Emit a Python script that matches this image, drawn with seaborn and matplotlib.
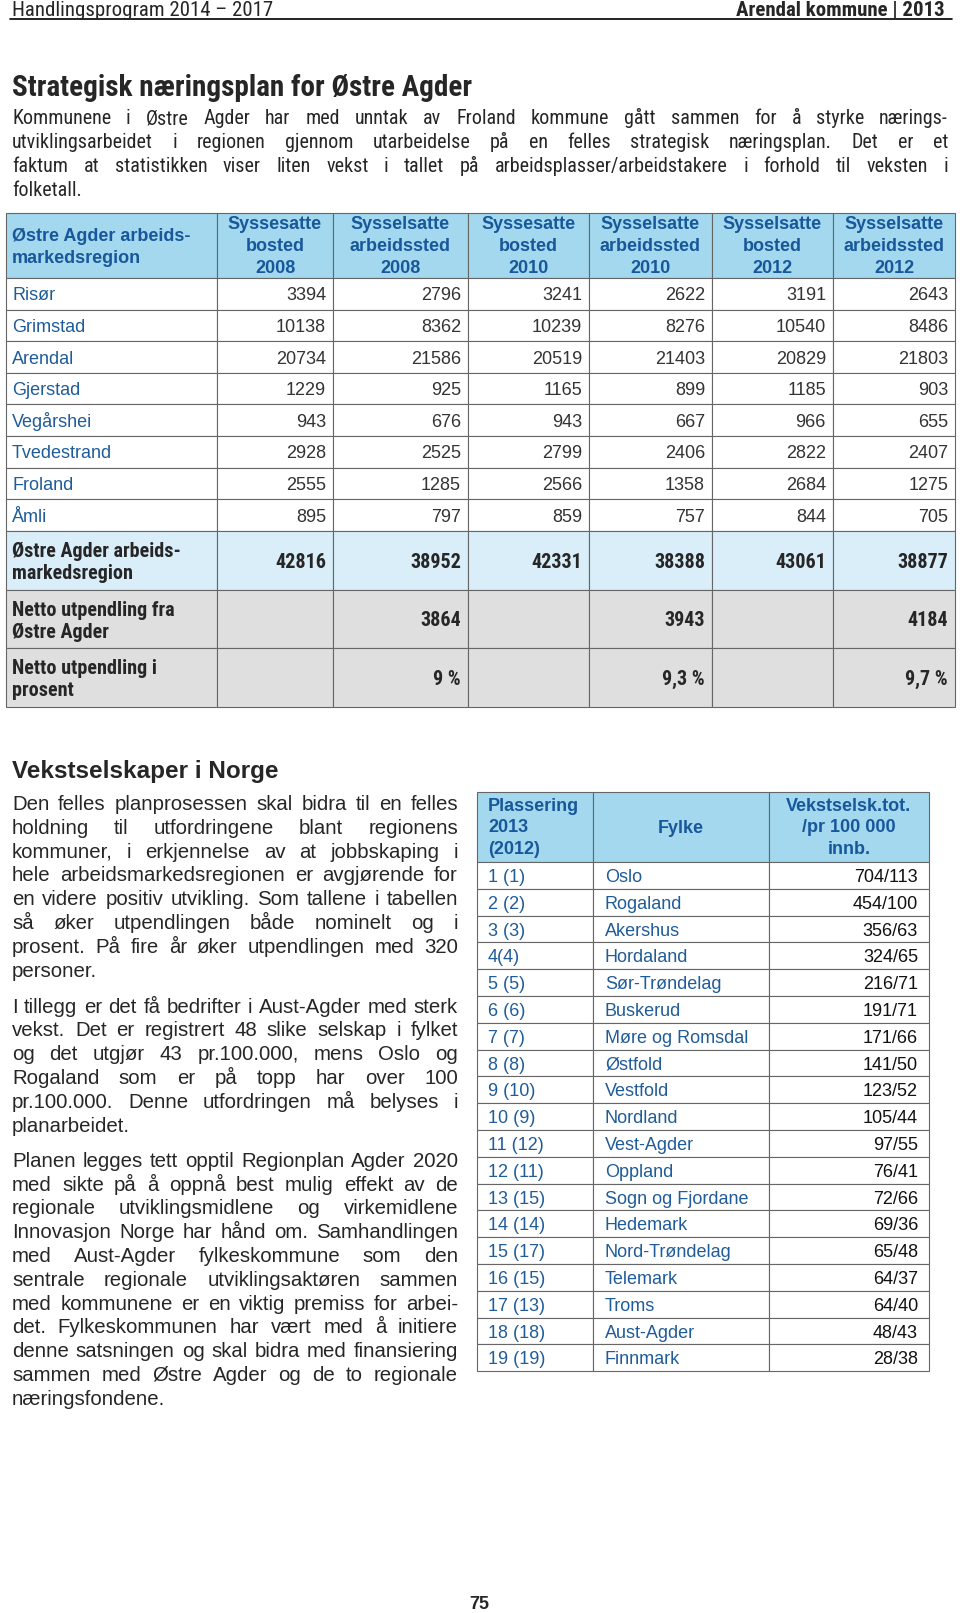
import matplotlib
matplotlib.use('Agg')
import matplotlib.pyplot as plt
from matplotlib.patches import Rectangle
from matplotlib import font_manager
import seaborn as sns

sns.set_style('white')
plt.rcParams['font.family'] = ['Liberation Sans', 'DejaVu Sans']

# narrow face for the Arial Narrow parts of the page
names = {f.name for f in font_manager.fontManager.ttflist}
NARROW = 'Liberation Sans'
for n in ['Liberation Sans Narrow', 'Arial Narrow', 'Roboto Condensed', 'PT Sans Narrow']:
    if n in names:
        NARROW = n
        break
NARROW_LIST = [NARROW] + [n for n in ['PT Sans Narrow', 'Liberation Sans'] if n in names and n != NARROW]

# ---- data: table 1 (Østre Agder arbeidsmarkedsregion)
kommuner = ['Risør', 'Grimstad', 'Arendal', 'Gjerstad', 'Vegårshei',
            'Tvedestrand', 'Froland', 'Åmli']
bosted_2008 = [3394, 10138, 20734, 1229, 943, 2928, 2555, 895]
arbeid_2008 = [2796, 8362, 21586, 925, 676, 2525, 1285, 797]
bosted_2010 = [3241, 10239, 20519, 1165, 943, 2799, 2566, 859]
arbeid_2010 = [2622, 8276, 21403, 899, 667, 2406, 1358, 757]
bosted_2012 = [3191, 10540, 20829, 1185, 966, 2822, 2684, 844]
arbeid_2012 = [2643, 8486, 21803, 903, 655, 2407, 1275, 705]
region_sum = [42816, 38952, 42331, 38388, 43061, 38877]
netto_utpendling = [3864, 3943, 4184]
netto_prosent = ['9 %', '9,3 %', '9,7 %']
kol_titler = ['Syssesatte\nbosted\n2008', 'Sysselsatte\narbeidssted\n2008',
              'Syssesatte\nbosted\n2010', 'Sysselsatte\narbeidssted\n2010',
              'Sysselsatte\nbosted\n2012', 'Sysselsatte\narbeidssted\n2012']

# ---- data: table 2 (Vekstselskaper)
plassering = ['1 (1)', '2 (2)', '3 (3)', '4(4)', '5 (5)', '6 (6)', '7 (7)', '8 (8)',
              '9 (10)', '10 (9)', '11 (12)', '12 (11)', '13 (15)', '14 (14)',
              '15 (17)', '16 (15)', '17 (13)', '18 (18)', '19 (19)']
fylker = ['Oslo', 'Rogaland', 'Akershus', 'Hordaland', 'Sør-Trøndelag', 'Buskerud',
          'Møre og Romsdal', 'Østfold', 'Vestfold', 'Nordland', 'Vest-Agder',
          'Oppland', 'Sogn og Fjordane', 'Hedemark', 'Nord-Trøndelag', 'Telemark',
          'Troms', 'Aust-Agder', 'Finnmark']
vekst_tot = [704, 454, 356, 324, 216, 191, 171, 141, 123, 105, 97, 76, 72, 69, 65, 64, 64, 48, 28]
vekst_pr100k = [113, 100, 63, 65, 71, 71, 66, 50, 52, 44, 55, 41, 66, 36, 48, 37, 40, 43, 38]

# ---- text
intro = ['Kommunene i Østre Agder har med unntak av Froland kommune gått sammen for å styrke nærings-',
         'utviklingsarbeidet i regionen gjennom utarbeidelse på en felles strategisk næringsplan. Det er et',
         'faktum at statistikken viser liten vekst i tallet på arbeidsplasser/arbeidstakere i forhold til veksten i',
         'folketall.']
para_a = ['Den felles planprosessen skal bidra til en felles',
          'holdning til utfordringene blant regionens',
          'kommuner, i erkjennelse av at jobbskaping i',
          'hele arbeidsmarkedsregionen er avgjørende for',
          'en videre positiv utvikling. Som tallene i tabellen',
          'så øker utpendlingen både nominelt og i',
          'prosent. På fire år øker utpendlingen med 320',
          'personer.']
para_b = ['I tillegg er det få bedrifter i Aust-Agder med sterk',
          'vekst. Det er registrert 48 slike selskap i fylket',
          'og det utgjør 43 pr.100.000, mens Oslo og',
          'Rogaland som er på topp har over 100',
          'pr.100.000. Denne utfordringen må belyses i',
          'planarbeidet.']
para_c = ['Planen legges tett opptil Regionplan Agder 2020',
          'med sikte på å oppnå best mulig effekt av de',
          'regionale utviklingsmidlene og virkemidlene',
          'Innovasjon Norge har hånd om. Samhandlingen',
          'med Aust-Agder fylkeskommune som den',
          'sentrale regionale utviklingsaktøren sammen',
          'med kommunene er en viktig premiss for arbei-',
          'det. Fylkeskommunen har vært med å initiere',
          'denne satsningen og skal bidra med finansiering',
          'sammen med Østre Agder og de to regionale',
          'næringsfondene.']

HEAD_BG = '#a3d8ef'
HEAD_TXT = '#18589a'
NAME_TXT = '#1f5c99'
NUM_TXT = '#333333'
SUM_BG = '#d9eef9'
GRAY_BG = '#dfdfdf'
GRID = '#666666'

fig = plt.figure(figsize=(9.6, 16.13), dpi=100)
ax = fig.add_axes([0, 0, 1, 1])
ax.set_xlim(0, 960)
ax.set_ylim(1613, 0)
ax.axis('off')
renderer = fig.canvas.get_renderer()


def txt(x, yc, s, size, **kw):
    # single line, put on a baseline so Ø / å do not shift the word
    return ax.text(x, yc + 2 + 0.26 * size * 100 / 72, s, size=size, va='baseline', **kw)


def paragraph(lines, x0, x1, y0, dy, size, **kw):
    # justified block, last line left aligned
    for i, line in enumerate(lines):
        y = y0 + i * dy
        if i == len(lines) - 1:
            txt(x0, y, line, size, **kw)
            continue
        words = line.split(' ')
        texts = [txt(x0, y, w, size, **kw) for w in words]
        widths = [t.get_window_extent(renderer).width for t in texts]
        gap = (x1 - x0 - sum(widths)) / (len(words) - 1)
        x = x0
        for t, w in zip(texts, widths):
            t.set_x(x)
            x += w + gap


def cell(x0, x1, y0, y1, fc='white'):
    ax.add_patch(Rectangle((x0, y0), x1 - x0, y1 - y0, facecolor=fc,
                           edgecolor=GRID, lw=0.8))


# header line
txt(12, 9, 'Handlingsprogram 2014 – 2017', 15, family=NARROW_LIST)
txt(945, 9, 'Arendal kommune | 2013', 15, family=NARROW, weight='bold', ha='right')
ax.plot([10, 952], [18.5, 18.5], color='black', lw=1.2)

txt(12, 86, 'Strategisk næringsplan for Østre Agder', 21, family=NARROW, weight='bold')
paragraph(intro, 12, 948, 117, 23.8, 14.5, family=NARROW_LIST)

# ---- table 1
cols = [6, 217, 333, 468, 589, 712, 833, 955]
top, head_bot, rh = 213, 278, 31.6
sum_rows = [531, 590, 648, 707]
fs = 13

for j in range(7):
    cell(cols[j], cols[j + 1], top, head_bot, HEAD_BG)
ax.text(12, (top + head_bot) / 2 + 2, 'Østre Agder arbeids-\nmarkedsregion', color=HEAD_TXT,
        weight='bold', size=fs, va='center', linespacing=1.4)
for j, t in enumerate(kol_titler):
    ax.text((cols[j + 1] + cols[j + 2]) / 2, (top + head_bot) / 2 + 1, t, color=HEAD_TXT,
            weight='bold', size=fs, ha='center', va='center', linespacing=1.4)

series = [bosted_2008, arbeid_2008, bosted_2010, arbeid_2010, bosted_2012, arbeid_2012]
for i, navn in enumerate(kommuner):
    y0 = head_bot + i * rh
    for j in range(7):
        cell(cols[j], cols[j + 1], y0, y0 + rh)
    txt(12, y0 + rh / 2, navn, fs, color=NAME_TXT)
    for j, s in enumerate(series):
        txt(cols[j + 2] - 7, y0 + rh / 2, str(s[i]), fs, color=NUM_TXT, ha='right')

labels = ['Østre Agder arbeids-\nmarkedsregion', 'Netto utpendling fra\nØstre Agder',
          'Netto utpendling i\nprosent']
bgs = [SUM_BG, GRAY_BG, GRAY_BG]
vals = [[str(v) for v in region_sum],
        ['', str(netto_utpendling[0]), '', str(netto_utpendling[1]), '', str(netto_utpendling[2])],
        ['', netto_prosent[0], '', netto_prosent[1], '', netto_prosent[2]]]
for k in range(3):
    y0, y1 = sum_rows[k], sum_rows[k + 1]
    for j in range(7):
        cell(cols[j], cols[j + 1], y0, y1, bgs[k])
    ax.text(12, (y0 + y1) / 2 + 2, labels[k], family=NARROW, weight='bold', size=14.5,
            va='center', linespacing=1.2)
    for j, v in enumerate(vals[k]):
        txt(cols[j + 2] - 7, (y0 + y1) / 2, v, 14.5, family=NARROW, weight='bold', ha='right')

# ---- left column text
txt(12, 770, 'Vekstselskaper i Norge', 17.5, weight='bold')
body_fs = 14.7
paragraph(para_a, 12, 458, 802.6, 23.8, body_fs)
paragraph(para_b, 12, 458, 1005.3, 23.8, body_fs)
paragraph(para_c, 12, 458, 1159.6, 23.77, body_fs)

# ---- table 2
c2 = [477, 593, 769, 929]
t2_top, t2_head, rh2 = 792, 862, 26.8
fs2 = 13
for j in range(3):
    cell(c2[j], c2[j + 1], t2_top, t2_head, HEAD_BG)
ym = (t2_top + t2_head) / 2 + 1
ax.text(488, ym, 'Plassering\n2013\n(2012)', color=HEAD_TXT, weight='bold', size=fs2,
        va='center', linespacing=1.35)
txt((c2[1] + c2[2]) / 2, ym - 2, 'Fylke', fs2, color=HEAD_TXT, weight='bold', ha='center')
ax.text((c2[2] + c2[3]) / 2, ym, 'Vekstselsk.tot.\n/pr 100 000\ninnb.', color=HEAD_TXT,
        weight='bold', size=fs2, ha='center', va='center', linespacing=1.35)
for i in range(len(fylker)):
    y0 = t2_head + i * rh2
    for j in range(3):
        cell(c2[j], c2[j + 1], y0, y0 + rh2)
    yc = y0 + rh2 / 2
    txt(488, yc, plassering[i], fs2, color=NAME_TXT)
    txt(605, yc, fylker[i], fs2, color=NAME_TXT)
    txt(918, yc, f'{vekst_tot[i]}/{vekst_pr100k[i]}', fs2, color='#111111', ha='right')

txt(479, 1602, '75', 13, weight='bold', ha='center')

fig.savefig('out.png', dpi=100)
